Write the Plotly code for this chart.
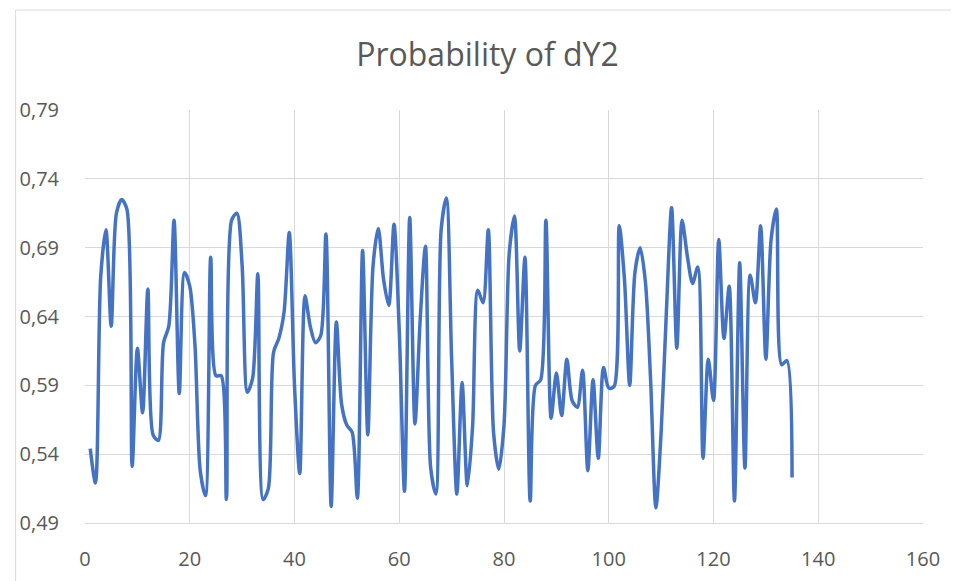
import plotly.graph_objects as go

x_vals = list(range(1, 136))
prob_dy2 = [
    0.544, 0.519, 0.669, 0.703, 0.633, 0.715, 0.725, 0.718, 0.531, 0.617,
    0.570, 0.660, 0.554, 0.550, 0.621, 0.633, 0.710, 0.584, 0.672, 0.662,
    0.619, 0.528, 0.510, 0.683, 0.597, 0.597, 0.507, 0.710, 0.715, 0.677,
    0.585, 0.595, 0.671, 0.507, 0.515, 0.614, 0.624, 0.643, 0.701, 0.590,
    0.526, 0.655, 0.633, 0.621, 0.626, 0.700, 0.502, 0.636, 0.576, 0.561,
    0.556, 0.508, 0.688, 0.554, 0.677, 0.704, 0.667, 0.648, 0.707, 0.630,
    0.513, 0.712, 0.562, 0.638, 0.691, 0.530, 0.511, 0.703, 0.726, 0.609,
    0.511, 0.592, 0.517, 0.560, 0.659, 0.650, 0.703, 0.556, 0.529, 0.561,
    0.686, 0.713, 0.615, 0.683, 0.506, 0.590, 0.594, 0.710, 0.566, 0.599,
    0.568, 0.609, 0.579, 0.574, 0.601, 0.528, 0.594, 0.537, 0.603, 0.588,
    0.589, 0.706, 0.667, 0.590, 0.672, 0.690, 0.665, 0.593, 0.501, 0.556,
    0.643, 0.719, 0.617, 0.710, 0.684, 0.664, 0.676, 0.537, 0.609, 0.579,
    0.696, 0.624, 0.662, 0.506, 0.679, 0.530, 0.670, 0.650, 0.706, 0.609,
    0.696, 0.718, 0.605, 0.608, 0.523,
]
title_text = "Probability of dY2"
y_ticks = [0.49, 0.54, 0.59, 0.64, 0.69, 0.74, 0.79]
x_ticks = [0, 20, 40, 60, 80, 100, 120, 140, 160]

fig = go.Figure()
fig.add_trace(go.Scatter(
    x=x_vals, y=prob_dy2, mode="lines",
    line=dict(color="#4472C4", width=3.5, shape="spline", smoothing=0.8),
    showlegend=False,
))

grid = "#d9d9d9"
fig.update_layout(
    width=959, height=581,
    margin=dict(l=70, r=44, t=102, b=66),
    paper_bgcolor="white", plot_bgcolor="white",
    separators=", ",
    font=dict(family="Open Sans, sans-serif", color="#595959", size=20),
    title=dict(text=title_text, x=0.5, xanchor="center", y=0.92, yanchor="middle",
               font=dict(size=32, color="#595959")),
    xaxis=dict(range=[0, 160], tickvals=x_ticks, showgrid=True, gridcolor=grid,
               gridwidth=1, zeroline=False, showline=True, linecolor=grid,
               linewidth=1, ticks="", ticklabelstandoff=18),
    yaxis=dict(range=[0.49, 0.79], tickvals=y_ticks, tickformat=".2f",
               showgrid=True, gridcolor=grid, gridwidth=1, zeroline=False,
               showline=False, ticks="", ticklabelstandoff=25),
)
# outer chart border (left and top edges visible)
fig.add_shape(type="line", xref="paper", yref="paper",
              x0=-0.0828, x1=-0.0828, y0=-0.2, y1=1.242,
              line=dict(color=grid, width=1))
fig.add_shape(type="line", xref="paper", yref="paper",
              x0=-0.0828, x1=1.1, y0=1.242, y1=1.242,
              line=dict(color=grid, width=1))

fig.write_html("out.html")
